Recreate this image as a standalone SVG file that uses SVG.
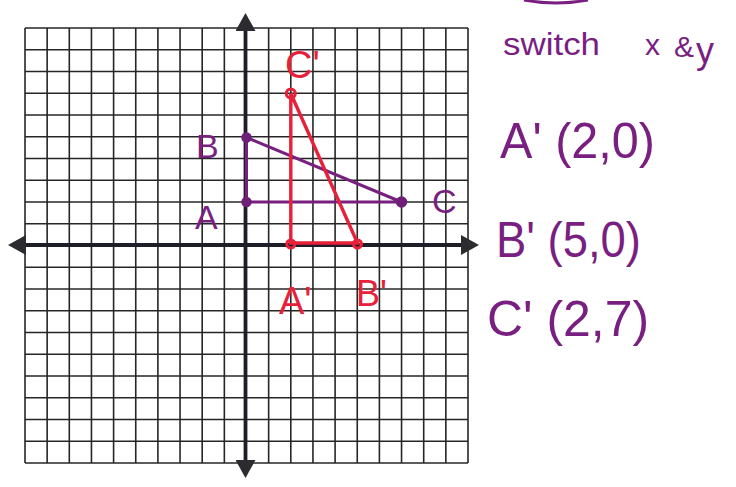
<svg xmlns="http://www.w3.org/2000/svg" width="736" height="487" viewBox="0 0 736 487">
<style>
.grid line{stroke:#262626;stroke-width:1.6}
.axis{stroke:#1e1e28;stroke-width:3.8;fill:none}
.pur{stroke:#77207f;stroke-width:3;fill:none;stroke-linecap:round}
.red{stroke:#e8203a;stroke-width:3.4;fill:none;stroke-linecap:round}
.pdot{fill:#6e1f78;stroke:#6e1f78;stroke-width:1.5}
.rdot{fill:none;stroke:#e8203a;stroke-width:3}
.ptxt{fill:#7a1f82;font-family:"Liberation Sans","DejaVu Sans",sans-serif}
.rtxt{fill:#e8203a;font-family:"Liberation Sans","DejaVu Sans",sans-serif}
</style>
<defs>
<marker id="arr" viewBox="0 0 18 20" markerWidth="18" markerHeight="20" refX="0" refY="10" markerUnits="userSpaceOnUse" orient="auto-start-reverse">
<path d="M0,0 L18,10 L0,20 z" fill="#2c2c30"/>
</marker>
</defs>
<rect width="736" height="487" fill="#ffffff"/>
<g id="grid" class="grid">
<line x1="25" y1="28" x2="25" y2="463"/><line x1="47.15" y1="28" x2="47.15" y2="463"/><line x1="69.3" y1="28" x2="69.3" y2="463"/><line x1="91.45" y1="28" x2="91.45" y2="463"/><line x1="113.6" y1="28" x2="113.6" y2="463"/><line x1="135.75" y1="28" x2="135.75" y2="463"/><line x1="157.9" y1="28" x2="157.9" y2="463"/><line x1="180.05" y1="28" x2="180.05" y2="463"/><line x1="202.2" y1="28" x2="202.2" y2="463"/><line x1="224.35" y1="28" x2="224.35" y2="463"/><line x1="268.65" y1="28" x2="268.65" y2="463"/><line x1="290.8" y1="28" x2="290.8" y2="463"/><line x1="312.95" y1="28" x2="312.95" y2="463"/><line x1="335.1" y1="28" x2="335.1" y2="463"/><line x1="357.25" y1="28" x2="357.25" y2="463"/><line x1="379.4" y1="28" x2="379.4" y2="463"/><line x1="401.55" y1="28" x2="401.55" y2="463"/><line x1="423.7" y1="28" x2="423.7" y2="463"/><line x1="445.85" y1="28" x2="445.85" y2="463"/><line x1="468" y1="28" x2="468" y2="463"/>
<line x1="25" y1="28" x2="468" y2="28"/><line x1="25" y1="49.75" x2="468" y2="49.75"/><line x1="25" y1="71.5" x2="468" y2="71.5"/><line x1="25" y1="93.25" x2="468" y2="93.25"/><line x1="25" y1="115" x2="468" y2="115"/><line x1="25" y1="136.75" x2="468" y2="136.75"/><line x1="25" y1="158.5" x2="468" y2="158.5"/><line x1="25" y1="180.25" x2="468" y2="180.25"/><line x1="25" y1="202" x2="468" y2="202"/><line x1="25" y1="223.75" x2="468" y2="223.75"/><line x1="25" y1="267.25" x2="468" y2="267.25"/><line x1="25" y1="289" x2="468" y2="289"/><line x1="25" y1="310.75" x2="468" y2="310.75"/><line x1="25" y1="332.5" x2="468" y2="332.5"/><line x1="25" y1="354.25" x2="468" y2="354.25"/><line x1="25" y1="376" x2="468" y2="376"/><line x1="25" y1="397.75" x2="468" y2="397.75"/><line x1="25" y1="419.5" x2="468" y2="419.5"/><line x1="25" y1="441.25" x2="468" y2="441.25"/><line x1="25" y1="463" x2="468" y2="463"/>
</g>
<g id="axes">
<line class="axis" x1="26" y1="245" x2="461" y2="245" marker-start="url(#arr)" marker-end="url(#arr)"/>
<line class="axis" x1="245.5" y1="31" x2="245.5" y2="460" marker-start="url(#arr)" marker-end="url(#arr)"/>
</g>
<g id="connectors">
<path class="pur" d="M246.5,202 L246.5,137.5 L401.5,202 Z"/>
<path class="red" d="M290.8,243 L290.8,93.5 L357.5,243 Z"/>
</g>
<g id="A"><circle class="pdot" cx="246.5" cy="202" r="4.5"/><text class="ptxt" x="195" y="229" font-size="34">A</text></g>
<g id="B"><circle class="pdot" cx="246.5" cy="137.5" r="4.5"/><text class="ptxt" x="196" y="158" font-size="34">B</text></g>
<g id="C"><circle class="pdot" cx="401.5" cy="202" r="5"/><text class="ptxt" x="432" y="213" font-size="34">C</text></g>
<g id="A-prime"><circle class="rdot" cx="290.8" cy="244" r="4"/><text class="rtxt" x="279" y="314" font-size="38">A'</text></g>
<g id="B-prime"><circle class="rdot" cx="357.5" cy="244" r="4"/><text class="rtxt" x="356" y="306" font-size="36">B'</text></g>
<g id="C-prime"><circle class="rdot" cx="290.8" cy="93.5" r="4.5"/><text class="rtxt" x="285" y="78" font-size="38">C'</text></g>
<g id="notes">
<path d="M524,0 Q556,6 588,0" stroke="#7a1f82" stroke-width="3" fill="none"/>
<text class="ptxt" x="503" y="55" font-size="32" textLength="97" lengthAdjust="spacingAndGlyphs">switch</text>
<text class="ptxt" x="645" y="55" font-size="30">x</text>
<text class="ptxt" x="674" y="57" font-size="30">&amp;</text>
<text class="ptxt" x="696" y="63" font-size="36">y</text>
<text class="ptxt" x="500" y="158" font-size="50" textLength="155" lengthAdjust="spacingAndGlyphs">A' (2,0)</text>
<text class="ptxt" x="496" y="257" font-size="50" textLength="145" lengthAdjust="spacingAndGlyphs">B' (5,0)</text>
<text class="ptxt" x="487" y="336" font-size="50" textLength="162" lengthAdjust="spacingAndGlyphs">C' (2,7)</text>
</g>
</svg>
